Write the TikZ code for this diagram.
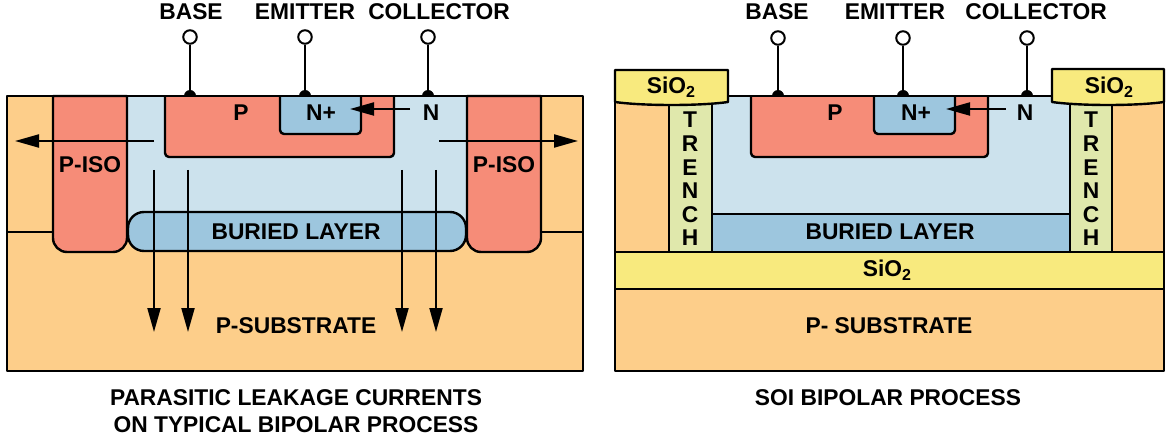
\documentclass[tikz,border=0pt]{standalone}
\usepackage{fontspec}
\setmainfont{Liberation Sans}
\usetikzlibrary{arrows.meta, positioning}
\definecolor{substratefill}{HTML}{FDCE8A}
\definecolor{pfill}{HTML}{F68C78}
\definecolor{nfill}{HTML}{CCE2ED}
\definecolor{nplusfill}{HTML}{9DC6DE}
\definecolor{oxidefill}{HTML}{F8EA7E}
\definecolor{trenchfill}{HTML}{E0E8AC}
\newcommand{\sitwo}{SiO\raisebox{-4.5pt}{\fontsize{16}{16}\selectfont 2}}

\begin{document}
\begin{tikzpicture}[
    x=1pt, y=-1pt,
    region/.style={draw=black, line width=2.4pt, line join=round},
    terminal/.style={circle, draw=black, fill=white, line width=2pt, minimum size=13.5pt, inner sep=0pt},
    wire/.style={draw=black, line width=2.2pt},
    current/.style={draw=black, line width=2pt, -{Triangle[length=24pt, width=13pt]}},
    tag/.style={font=\bfseries\fontsize{22.8}{22.8}\selectfont, text=black, inner sep=0pt, align=center},
    caption/.style={font=\bfseries\fontsize{22.8}{26.5}\selectfont, text=black, inner sep=0pt, align=center},
    contact/.style={fill=black}
]
\useasboundingbox (0,0) rectangle (1166,446);

% left cross-section
\draw[region, fill=substratefill] (7,96) rectangle (583,371);
\draw[region] (7,232) -- (53,232);
\draw[region] (541,232) -- (583,232);
\fill[nfill] (127,96) rectangle (467,230);
\draw[region, fill=pfill] (53,96) [rounded corners=14pt] -- (53,252) -- (127,252) [sharp corners] -- (127,96) -- cycle;
\draw[region, fill=pfill] (467,96) [rounded corners=14pt] -- (467,252) -- (541,252) [sharp corners] -- (541,96) -- cycle;
\draw[region, fill=nplusfill, rounded corners=16pt] (128,212) rectangle (466,251);
\draw[region, fill=pfill] (165,96) [rounded corners=4pt] -- (165,157) -- (394,157) [sharp corners] -- (394,96);
\draw[region, fill=nplusfill] (280,96) [rounded corners=4pt] -- (280,134) -- (361,134) [sharp corners] -- (361,96);
\draw[region] (7,96) -- (583,96);

% left terminals
\fill[contact] (184,96) arc[start angle=180, end angle=360, radius=6] -- cycle;
\fill[contact] (299,96) arc[start angle=180, end angle=360, radius=6] -- cycle;
\fill[contact] (422,96) arc[start angle=180, end angle=360, radius=6] -- cycle;
\coordinate (lbc) at (190,96);
\coordinate (lec) at (305,96);
\coordinate (lcc) at (428,96);
\node[terminal] (lbt) at (190,37) {};
\node[terminal] (let) at (305,37) {};
\node[terminal] (lct) at (428,37) {};
\draw[wire] (lbt) -- (lbc);
\draw[wire] (let) -- (lec);
\draw[wire] (lct) -- (lcc);
\node[tag] (lbase) at (191,12) {BASE};
\node[tag] (lemit) at (305,12) {EMITTER};
\node[tag] (lcoll) at (439,12) {COLLECTOR};

% left leakage paths
\coordinate (la1) at (410,109);
\coordinate (la2) at (350,109);
\coordinate (la3) at (154,141);
\coordinate (la4) at (15,141);
\coordinate (la5) at (439,141);
\coordinate (la6) at (578,141);
\draw[current] (la1) -- (la2);
\draw[current] (la3) -- (la4);
\draw[current] (la5) -- (la6);
\coordinate (ld1) at (154,170);
\coordinate (ld2) at (154,332);
\coordinate (ld3) at (188,170);
\coordinate (ld4) at (188,332);
\coordinate (ld5) at (402,170);
\coordinate (ld6) at (402,332);
\coordinate (ld7) at (436,170);
\coordinate (ld8) at (436,332);
\draw[current] (ld1) -- (ld2);
\draw[current] (ld3) -- (ld4);
\draw[current] (ld5) -- (ld6);
\draw[current] (ld7) -- (ld8);

% left labels
\node[tag] (lp) at (241,113) {P};
\node[tag] (lnp) at (321,113) {N+};
\node[tag] (ln) at (431,113) {N};
\node[tag] (liso1) at (90,165) {P-ISO};
\node[tag] (liso2) at (504,165) {P-ISO};
\node[tag] (lbur) at (296,232) {BURIED LAYER};
\node[tag] (lsub) at (296,326) {P-SUBSTRATE};
\node[caption] (lcap) at (296,411) {PARASITIC LEAKAGE CURRENTS\\ON TYPICAL BIPOLAR PROCESS};

% right cross-section
\draw[region, fill=substratefill] (615,289) rectangle (1164,371);
\draw[region, fill=substratefill] (615,100) rectangle (1164,252);
\draw[region, fill=nfill] (712,96) rectangle (1070,214);
\draw[region, fill=nplusfill] (712,214) rectangle (1070,252);
\draw[region, fill=trenchfill] (669,100) rectangle (712,252);
\draw[region, fill=trenchfill] (1070,100) rectangle (1112,252);
\draw[region, fill=oxidefill] (615,252) rectangle (1164,289);
\draw[region, fill=pfill] (751,96) [rounded corners=4pt] -- (751,157) -- (988,157) [sharp corners] -- (988,96);
\draw[region, fill=nplusfill] (874,96) [rounded corners=4pt] -- (874,134) -- (955,134) [sharp corners] -- (955,96);
\draw[region] (728,96) -- (1052,96);
\draw[region, fill=oxidefill] (615,70) -- (728,70) -- (728,102) .. controls (700,106) and (643,106) .. (615,102) -- cycle;
\draw[region, fill=oxidefill] (1052,69) -- (1164,69) -- (1164,102) .. controls (1136,106) and (1080,106) .. (1052,102) -- cycle;

% right terminals
\fill[contact] (772,96) arc[start angle=180, end angle=360, radius=6] -- cycle;
\fill[contact] (897,96) arc[start angle=180, end angle=360, radius=6] -- cycle;
\fill[contact] (1021,96) arc[start angle=180, end angle=360, radius=6] -- cycle;
\coordinate (rbc) at (778,96);
\coordinate (rec) at (903,96);
\coordinate (rcc) at (1027,96);
\node[terminal] (rbt) at (778,38) {};
\node[terminal] (ret) at (903,38) {};
\node[terminal] (rct) at (1027,38) {};
\draw[wire] (rbt) -- (rbc);
\draw[wire] (ret) -- (rec);
\draw[wire] (rct) -- (rcc);
\node[tag] (rbase) at (777,12) {BASE};
\node[tag] (remit) at (895,12) {EMITTER};
\node[tag] (rcoll) at (1036,12) {COLLECTOR};

\coordinate (ra1) at (1006,109);
\coordinate (ra2) at (946,109);
\draw[current] (ra1) -- (ra2);

% right labels
\node[tag] (rp) at (835,113) {P};
\node[tag] (rnp) at (916,113) {N+};
\node[tag] (rn) at (1025,113) {N};
\node[tag] (rox1) at (671,87) {\sitwo};
\node[tag] (rox2) at (1109,87) {\sitwo};
\node[tag] (rtr1) at (690,179) {T\\[0.8pt]R\\[0.8pt]E\\[0.8pt]N\\[0.8pt]C\\[0.8pt]H};
\node[tag] (rtr2) at (1091,179) {T\\[0.8pt]R\\[0.8pt]E\\[0.8pt]N\\[0.8pt]C\\[0.8pt]H};
\node[tag] (rbur) at (890,232) {BURIED LAYER};
\node[tag] (rox3) at (887,270) {\sitwo};
\node[tag] (rsub) at (889,326) {P- SUBSTRATE};
\node[caption] (rcap) at (888,398) {SOI BIPOLAR PROCESS};
\end{tikzpicture}
\end{document}
